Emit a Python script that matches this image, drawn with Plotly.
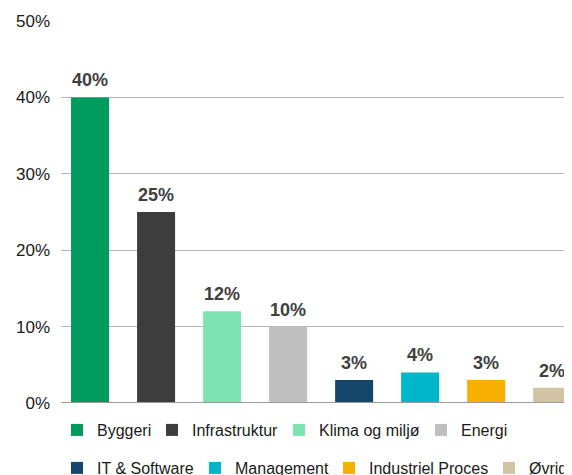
import plotly.graph_objects as go

categories = ["Byggeri", "Infrastruktur", "Klima og miljø", "Energi",
              "IT & Software", "Management", "Industriel Proces", "Øvrige"]
values = [40, 25, 12, 10, 3, 4, 3, 2]
colors = ["#009B5E", "#3D3D3D", "#7DE3B3", "#BFBFBF",
          "#14466C", "#00B6C8", "#F6B000", "#D2C3A4"]
tick_vals = [0, 10, 20, 30, 40, 50]
tick_text = ["0%", "10%", "20%", "30%", "40%", "50%"]

# page body adds an 8px offset; compensate in the margins
OFF = 8
W, H = 572, 475
ml, mt = 61 - OFF, 21 - OFF
pw, ph = 511, 382
mr = W - ml - pw
mb = H - mt - ph

# legend item marker-left pixel positions in the page (layout only)
leg_px = [73, 168, 295, 437, 73, 211, 345, 505]
leg_py = [430, 430, 430, 430, 468, 468, 468, 468]

fig = go.Figure()
for i, (c, v, col) in enumerate(zip(categories, values, colors)):
    lname = "legend" if i == 0 else f"legend{i+1}"
    fig.add_trace(go.Bar(
        x=[c], y=[v], name=c, marker=dict(color=col, line=dict(width=0)),
        width=38 / 66, legend=lname, showlegend=True, hoverinfo="skip"))
    fig.add_annotation(x=c, y=v, text=f"<b>{v}%</b>", showarrow=False,
                       yanchor="bottom", yshift=5,
                       font=dict(family="Liberation Sans, Arial", size=18, color="#404040"))

layout_legends = {}
for i in range(len(categories)):
    lname = "legend" if i == 0 else f"legend{i+1}"
    px = leg_px[i] - OFF - 16
    py = leg_py[i] - OFF
    layout_legends[lname] = dict(
        orientation="h", x=(px - ml) / pw, xanchor="left",
        y=(mt + ph - py) / ph, yanchor="middle",
        font=dict(family="Liberation Sans, Arial", size=16, color="#1a1a1a"),
        bgcolor="rgba(0,0,0,0)", borderwidth=0)

fig.update_layout(
    width=W, height=H,
    margin=dict(l=ml, r=mr, t=mt, b=mb, autoexpand=False),
    paper_bgcolor="white", plot_bgcolor="white",
    barmode="overlay",
    font=dict(family="Liberation Sans, Arial", size=17, color="#1a1a1a"),
    xaxis=dict(type="category", categoryorder="array", categoryarray=categories,
               range=[-0.44, 7.30], showticklabels=False, showgrid=False,
               zeroline=False, showline=False, ticks=""),
    yaxis=dict(range=[0, 50], tickvals=tick_vals, ticktext=tick_text,
               showgrid=True, gridcolor="#B5B5B5", gridwidth=1,
               zeroline=False, showline=False, ticks="", ticklabelstandoff=10,
               tickfont=dict(size=17, color="#1a1a1a")),
    shapes=[dict(type="line", xref="paper", yref="y", x0=0, x1=1, y0=0, y1=0,
                 line=dict(color="#9A9A9A", width=2), layer="above")],
    **layout_legends,
)

fig.write_html("out.html")
